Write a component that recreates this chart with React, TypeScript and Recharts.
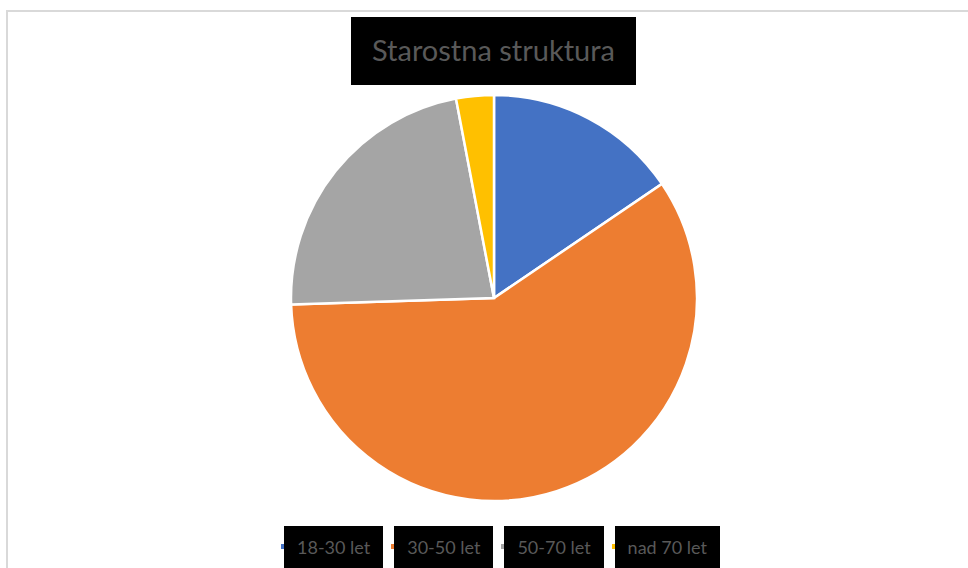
import { PieChart, Pie, Cell, Legend } from 'recharts';

const categories = ['18-30 let', '30-50 let', '50-70 let', 'nad 70 let'];
const shares = [15.5, 59, 22.5, 3];
const colors = ['#4472C4', '#ED7D31', '#A5A5A5', '#FFC000'];
const title = 'Starostna struktura';

const data = categories.map((name, i) => ({ name, value: shares[i] }));

const textGray = '#595959';
const font = 'Lato, "Open Sans", sans-serif';

function LegendBoxes() {
  return (
    <div style={{ display: 'flex', gap: 11, fontFamily: font }}>
      {categories.map((c, i) => (
        <div key={c} style={{ position: 'relative', height: 42 }}>
          <span
            style={{
              position: 'absolute',
              left: -3,
              top: 18,
              width: 5,
              height: 5,
              background: colors[i],
            }}
          />
          <div
            style={{
              position: 'relative',
              background: '#000',
              color: textGray,
              fontSize: 18,
              lineHeight: '42px',
              height: 42,
              padding: '0 13px',
              whiteSpace: 'nowrap',
            }}
          >
            {c}
          </div>
        </div>
      ))}
    </div>
  );
}

export default function App() {
  return (
    <div
      style={{
        position: 'absolute',
        left: 0,
        top: 0,
        width: 968,
        height: 568,
        overflow: 'hidden',
        background: '#fff',
      }}
    >
      <div
        style={{
          position: 'absolute',
          left: 6,
          top: 10,
          width: 1000,
          height: 600,
          borderTop: '2px solid #d9d9d9',
          borderLeft: '2px solid #d9d9d9',
        }}
      />
      <div
        style={{
          position: 'absolute',
          left: 351,
          top: 17,
          width: 285,
          height: 68,
          background: '#000',
          color: textGray,
          fontFamily: font,
          fontSize: 29,
          lineHeight: '66px',
          textAlign: 'center',
        }}
      >
        {title}
      </div>
      <PieChart
        width={968}
        height={568}
        margin={{ top: 0, right: 0, bottom: 0, left: 0 }}
        style={{ position: 'absolute', left: 0, top: 0 }}
      >
        <Pie
          data={data}
          dataKey="value"
          nameKey="name"
          cx={494}
          cy={298}
          outerRadius={203}
          startAngle={90}
          endAngle={-270}
          stroke="#fff"
          strokeWidth={2.5}
          isAnimationActive={false}
        >
          {data.map((d, i) => (
            <Cell key={d.name} fill={colors[i]} />
          ))}
        </Pie>
        <Legend
          content={() => <LegendBoxes />}
          wrapperStyle={{ position: 'absolute', left: 284, top: 526, width: 'auto', bottom: 'auto' }}
        />
      </PieChart>
    </div>
  );
}
